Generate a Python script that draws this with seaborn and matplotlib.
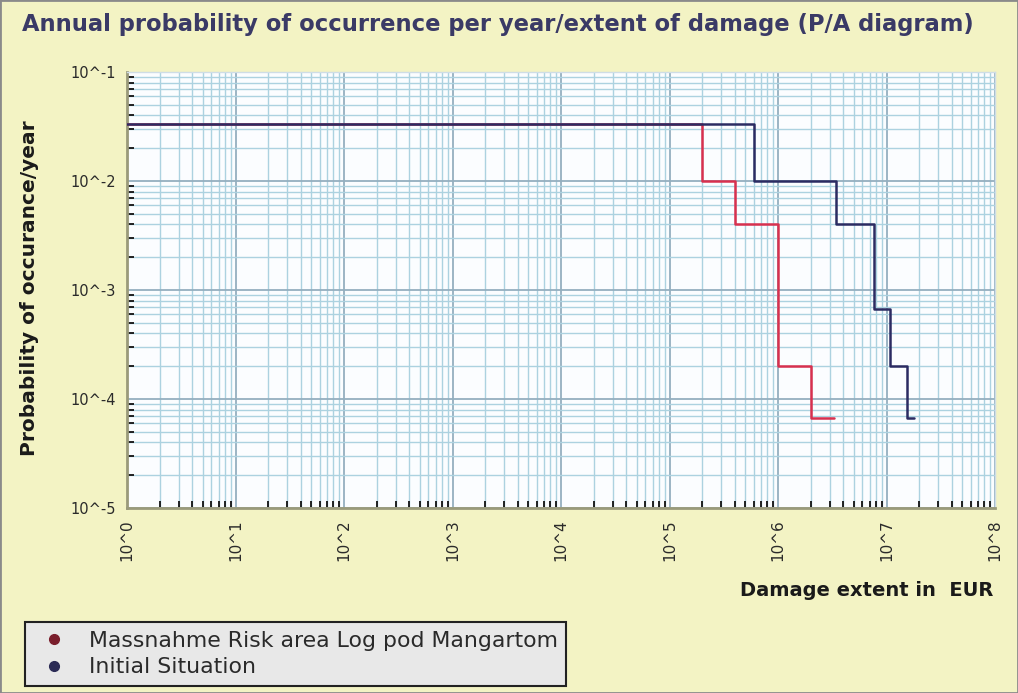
import matplotlib
matplotlib.use("Agg")
import matplotlib.pyplot as plt
from matplotlib.lines import Line2D
from matplotlib.ticker import FixedLocator, FixedFormatter, LogLocator, NullFormatter
import numpy as np
import pandas as pd
import seaborn as sns

# Step curves: damage extent (EUR) and probability of occurrence per year
measure_damage = [1, 2.0e5, 4.0e5, 1.0e6, 2.0e6, 3.3e6]
measure_prob = [0.0333, 0.01, 0.004, 2.0e-4, 6.7e-5, 6.7e-5]

initial_damage = [1, 6.0e5, 3.4e6, 7.7e6, 1.07e7, 1.55e7, 1.8e7]
initial_prob = [0.0333, 0.01, 0.004, 6.7e-4, 2.0e-4, 6.7e-5, 6.7e-5]

series_names = ["Massnahme Risk area Log pod Mangartom", "Initial Situation"]
series_colors = ["#d8304e", "#2b2b62"]
legend_colors = ["#7a1e2c", "#2b2b55"]

x_ticks = [10.0 ** k for k in range(0, 9)]
x_tick_labels = ["10^0", "10^1", "10^2", "10^3", "10^4", "10^5", "10^6", "10^7", "10^8"]
y_ticks = [10.0 ** k for k in range(-5, 0)]
y_tick_labels = ["10^-5", "10^-4", "10^-3", "10^-2", "10^-1"]

df = pd.concat([
    pd.DataFrame({"damage": measure_damage, "prob": measure_prob, "series": series_names[0]}),
    pd.DataFrame({"damage": initial_damage, "prob": initial_prob, "series": series_names[1]}),
], ignore_index=True)

sns.set_style("white")
plt.rcParams["font.family"] = ["DejaVu Sans"]

bg = "#f3f3c4"
fig = plt.figure(figsize=(10.18, 6.93), dpi=100, facecolor=bg)
ax = fig.add_axes([127 / 1018, 1 - 508 / 693, (995 - 127) / 1018, (508 - 72) / 693])
ax.set_facecolor("#fbfdff")

ax.set_xscale("log")
ax.set_yscale("log")
ax.set_xlim(1, 1e8)
ax.set_ylim(1e-5, 1e-1)

sns.lineplot(data=df, x="damage", y="prob", hue="series",
             palette=dict(zip(series_names, series_colors)),
             hue_order=series_names, estimator=None, sort=False,
             drawstyle="steps-post", linewidth=1.8, legend=False, ax=ax, zorder=3)

# Log grid with major and minor lines
ax.xaxis.set_major_locator(FixedLocator(x_ticks))
ax.xaxis.set_major_formatter(FixedFormatter(x_tick_labels))
ax.yaxis.set_major_locator(FixedLocator(y_ticks))
ax.yaxis.set_major_formatter(FixedFormatter(y_tick_labels))
ax.xaxis.set_minor_locator(LogLocator(base=10, subs=np.arange(2, 10), numticks=100))
ax.yaxis.set_minor_locator(LogLocator(base=10, subs=np.arange(2, 10), numticks=100))
ax.xaxis.set_minor_formatter(NullFormatter())
ax.yaxis.set_minor_formatter(NullFormatter())

ax.grid(True, which="major", color="#94afbf", linewidth=1.3, zorder=0)
ax.grid(True, which="minor", color="#acd2e0", linewidth=1.0, zorder=0)
ax.set_axisbelow(True)

ax.tick_params(axis="both", which="both", direction="in", color="#111111",
               top=False, right=False, bottom=True, left=True)
ax.tick_params(axis="both", which="major", length=0, pad=8)
ax.tick_params(axis="both", which="minor", length=5, width=1.3)
ax.tick_params(axis="x", which="major", labelrotation=90, labelsize=11, labelcolor="#2a2a2a")
ax.tick_params(axis="y", which="major", labelsize=10.5, labelcolor="#2a2a2a")

for side in ("left", "bottom"):
    ax.spines[side].set_color("#9a9a7a")
    ax.spines[side].set_linewidth(2.0)
for side in ("top", "right"):
    ax.spines[side].set_color("#cfdde6")
    ax.spines[side].set_linewidth(1.0)

ax.set_xlabel("")
ax.set_ylabel("")

fig.text(22 / 1018, 1 - 24 / 693,
         "Annual probability of occurrence per year/extent of damage (P/A diagram)",
         fontsize=16.3, fontweight="bold", color="#3a3a66", ha="left", va="center")
fig.text(30 / 1018, 1 - 288 / 693, "Probability of occurance/year",
         fontsize=14.5, fontweight="bold", color="#1a1a1a", rotation=90,
         ha="center", va="center")
fig.text(993 / 1018, 1 - 590 / 693, "Damage extent in  EUR",
         fontsize=14, fontweight="bold", color="#1a1a1a", ha="right", va="center")

handles = [Line2D([0], [0], linestyle="none", marker="o", markersize=7,
                  markerfacecolor=c, markeredgecolor=c) for c in legend_colors]
leg = fig.legend(handles, series_names, loc="lower left",
                 bbox_to_anchor=(25 / 1018, 1 - 686 / 693),
                 frameon=True, fancybox=False, fontsize=15.8,
                 facecolor="#e8e8e8", edgecolor="#222222", framealpha=1,
                 handlelength=1.8, handletextpad=0.7, borderpad=0.4,
                 labelspacing=0.3, borderaxespad=0)
leg.get_frame().set_linewidth(1.5)
for t in leg.get_texts():
    t.set_color("#2a2a2a")

# outer frame of the figure
fig.patches.append(plt.Rectangle((0, 0), 1, 1, transform=fig.transFigure,
                                 fill=False, edgecolor="#8a8a8a", linewidth=2))

fig.savefig("out.png", dpi=100, facecolor=bg)
